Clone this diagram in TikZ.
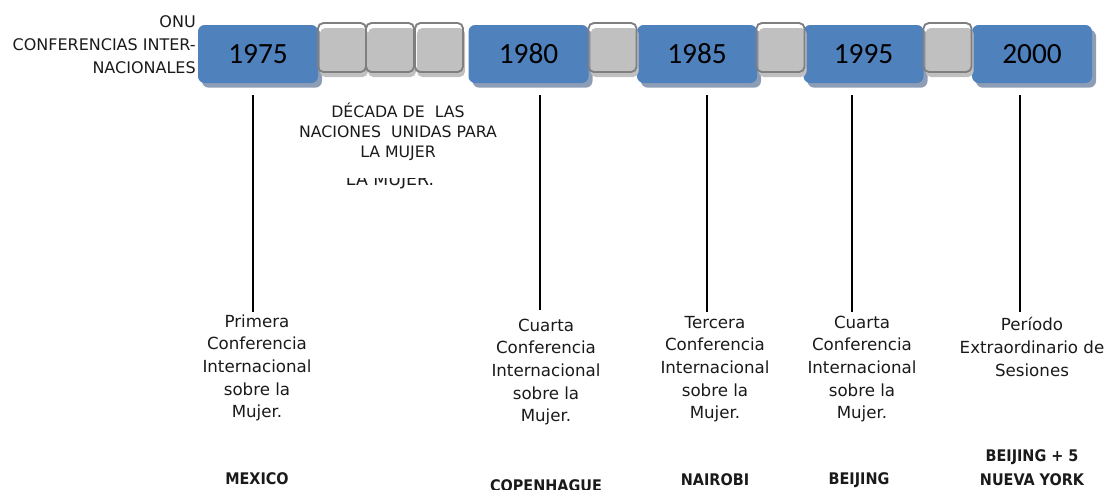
\documentclass[tikz,border=0pt]{standalone}
\usepackage{fontspec}
\setmainfont{DejaVu Sans}
\newfontfamily\yearfont{Carlito}
\newfontfamily\cityfont{DejaVu Sans Condensed}
\usetikzlibrary{shadows}

\definecolor{yearblue}{HTML}{4F81BD}
\definecolor{yearshade}{HTML}{8D9DB6}
\definecolor{gapline}{HTML}{7F7F7F}
\definecolor{gapfill}{HTML}{C0C0C0}
\definecolor{ink}{HTML}{1A1A1A}

\begin{document}
\begin{tikzpicture}[x=0.75pt, y=-0.75pt,
  yearbox/.style={fill=yearblue, rounded corners=5pt, minimum width=90pt,
    minimum height=43.5pt, inner sep=0pt, text=black,
    font=\yearfont\fontsize{22}{26}\selectfont,
    drop shadow={shadow xshift=3pt, shadow yshift=-3.5pt, fill=yearshade, opacity=1}},
  gapbox/.style={draw=gapline, line width=1.4pt, rounded corners=4pt,
    minimum width=36pt, minimum height=36.75pt, inner sep=0pt,
    drop shadow={shadow xshift=1.5pt, shadow yshift=-3.75pt, fill=gapfill, opacity=1}},
  stem/.style={line width=1.4pt, black},
  note/.style={align=center, inner sep=0pt, text=ink,
    font=\fontsize{12.5}{17}\selectfont},
  city/.style={align=center, inner sep=0pt, text=ink,
    font=\cityfont\bfseries\fontsize{12}{18}\selectfont},
  decade/.style={align=center, inner sep=0pt, text=ink,
    font=\fontsize{11.8}{15}\selectfont}]
\path[use as bounding box, clip] (0,0) rectangle (1109,489);

% year boxes
\node[yearbox] (y1975) at (258,54) {1975};
\node[yearbox] (y1980) at (528.5,54) {1980};
\node[yearbox] (y1985) at (697,54) {1985};
\node[yearbox] (y1995) at (863.5,54) {1995};
\node[yearbox] (y2000) at (1032,54) {2000};

% empty boxes between the years
\node[gapbox] (g1) at (342,47.5) {};
\node[gapbox] (g2) at (390,47.5) {};
\node[gapbox] (g3) at (439,47.5) {};
\node[gapbox] (g4) at (612.5,47.5) {};
\node[gapbox] (g5) at (780.5,47.5) {};
\node[gapbox] (g6) at (947.5,47.5) {};

\node[anchor=east, align=right, inner sep=0pt, text=ink,
  font=\fontsize{12}{17.25}\selectfont] (onu) at (196,45)
  {ONU\\CONFERENCIAS INTER-\\NACIONALES};

\node[decade] (decada) at (398,132)
  {DÉCADA DE\ \ LAS\\NACIONES\ \ UNIDAS PARA\\LA MUJER};
\begin{scope}
\clip (300,178) rectangle (500,200);
\node[decade, font=\fontsize{13}{15}\selectfont] (decadaecho) at (390,180.5) {LA MUJER.};
\end{scope}

% stems
\coordinate (s1) at (253,95);   \coordinate (e1) at (253,312);
\coordinate (s2) at (540,95);   \coordinate (e2) at (540,310);
\coordinate (s3) at (707,95);   \coordinate (e3) at (707,312);
\coordinate (s4) at (852,95);   \coordinate (e4) at (852,312);
\coordinate (s5) at (1020,95);  \coordinate (e5) at (1020,312);
\draw[stem] (s1) -- (e1);
\draw[stem] (s2) -- (e2);
\draw[stem] (s3) -- (e3);
\draw[stem] (s4) -- (e4);
\draw[stem] (s5) -- (e5);

% conferences
\node[note] (c1975) at (257,368)
  {Primera\\Conferencia\\Internacional\\sobre la\\Mujer.};
\node[note] (c1980) at (546,372)
  {Cuarta\\Conferencia\\Internacional\\sobre la\\Mujer.};
\node[note] (c1985) at (715,369)
  {Tercera\\Conferencia\\Internacional\\sobre la\\Mujer.};
\node[note] (c1995) at (862,369)
  {Cuarta\\Conferencia\\Internacional\\sobre la\\Mujer.};
\node[note] (c2000) at (1032,347)
  {Período\\Extraordinario de\\Sesiones};

% places
\node[city] (p1975) at (257,479) {MEXICO};
\node[city] (p1980) at (546,486) {COPENHAGUE};
\node[city] (p1985) at (715,480) {NAIROBI};
\node[city] (p1995) at (859,480) {BEIJING};
\node[city] (p2000) at (1032,468) {BEIJING + 5\\NUEVA YORK};
\end{tikzpicture}
\end{document}
